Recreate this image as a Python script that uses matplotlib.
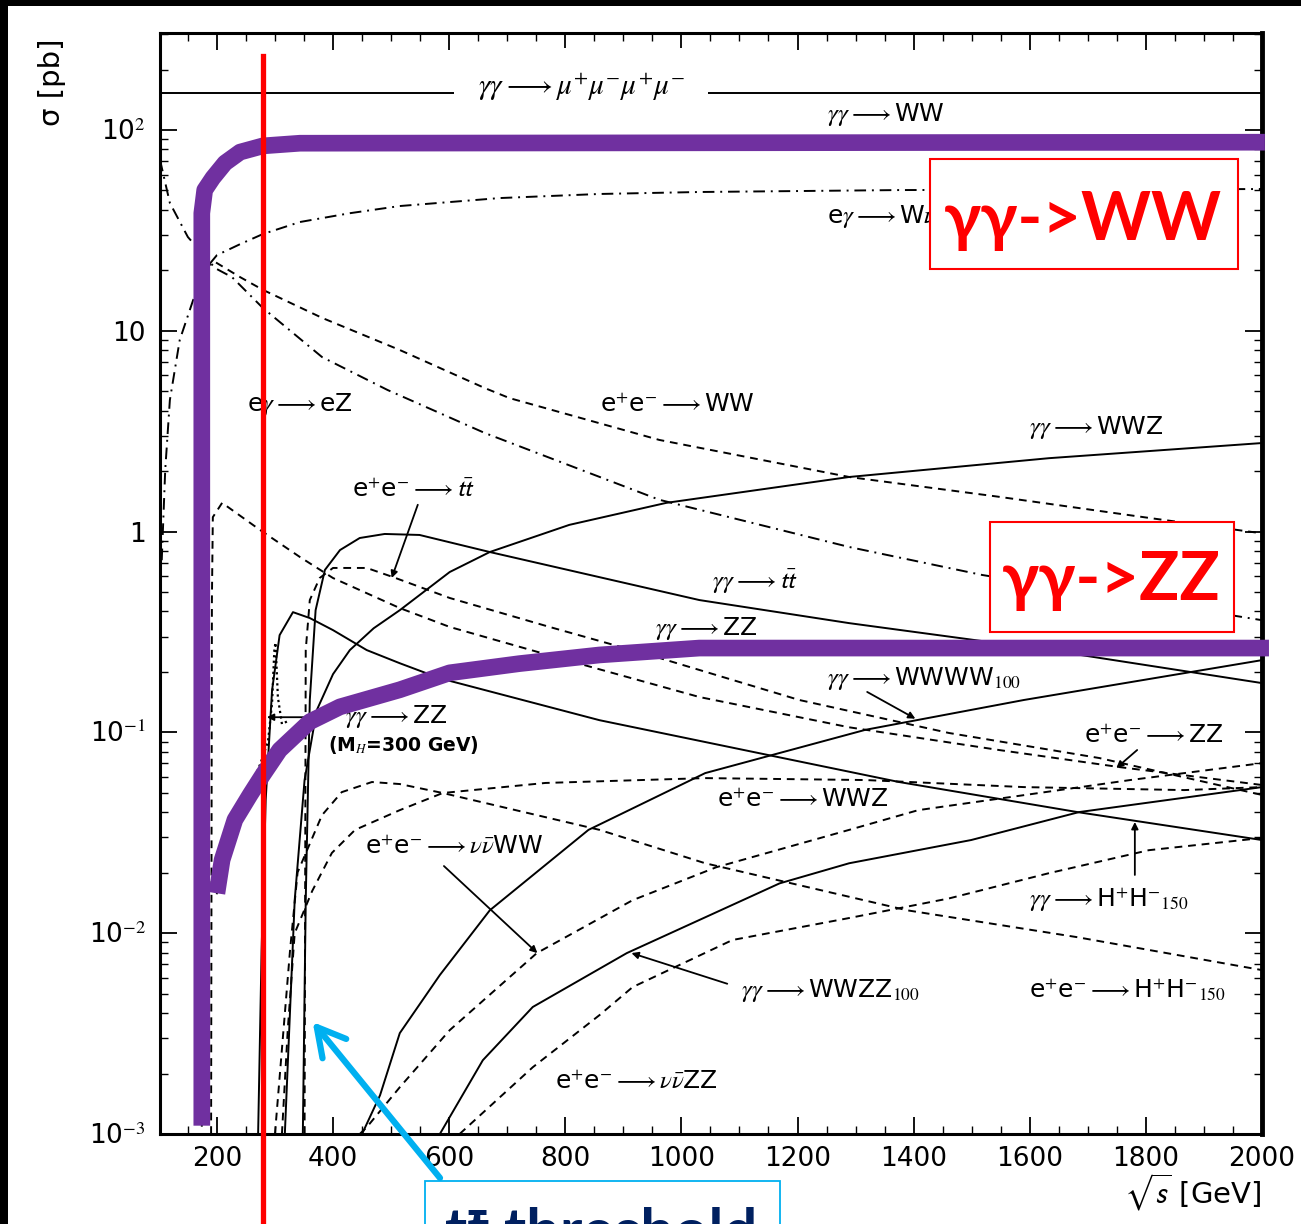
import numpy as np
import matplotlib
matplotlib.use('Agg')
import matplotlib.pyplot as plt
from matplotlib.patches import Rectangle
from matplotlib.ticker import MultipleLocator, LogLocator, NullFormatter

plt.rcParams['font.family'] = ['DejaVu Sans']
plt.rcParams['mathtext.fontset'] = 'stix'

# sqrt(s) in GeV, sigma in pb
mumu_sigma = 153.0

gg_ww_x = [174, 174, 179, 193, 214, 240, 279, 343, 2005]
gg_ww_sigma = [0.0011, 38.5, 50.2, 57.7, 68.5, 77.6, 83.3, 85.9, 86.9]

gg_zz_x = [200, 209, 231, 257, 279, 308, 360, 412, 515, 601, 721, 859, 1031, 2012]
gg_zz_sigma = [0.0158, 0.0232, 0.0367, 0.0488, 0.0614, 0.0817, 0.113, 0.134, 0.163,
               0.198, 0.220, 0.243, 0.263, 0.263]

gg_zzh_x = [245, 260, 275, 288, 295, 299, 301, 305, 312, 325]
gg_zzh_sigma = [0.045, 0.055, 0.07, 0.09, 0.14, 0.26, 0.28, 0.15, 0.11, 0.115]

eg_wnu_x = [105, 111, 119, 136, 159, 179, 200, 240, 279, 343, 429, 515, 687, 859, 1031, 1375, 2000]
eg_wnu_sigma = [0.72, 2.03, 4.52, 9.0, 14.2, 20.1, 23.8, 27.0, 30.3, 34.8, 38.5, 41.8,
                45.8, 48.0, 49.1, 50.2, 50.8]

eg_ez_x = [102, 119, 150, 197, 226, 279, 381, 494, 661, 962, 1289, 1518, 2000]
eg_ez_sigma = [71, 43.3, 29.3, 20.5, 18.5, 13.0, 7.4, 5.07, 3.10, 1.44, 0.838, 0.608, 0.362]

ee_ww_x = [163, 166, 170, 176, 184, 197, 240, 279, 381, 515, 661, 704, 962, 1289, 1547, 1805, 2000]
ee_ww_sigma = [0.3, 6, 13, 18, 21, 22.0, 18.5, 16.0, 11.6, 8.02, 5.19, 4.62, 2.86, 1.87, 1.49,
               1.17, 0.98]

ee_zz_x = [190, 191.4, 193, 209, 274, 343, 400, 515, 601, 802, 1031, 1289, 1547, 1754, 2000]
ee_zz_sigma = [0.001, 0.456, 1.18, 1.39, 1.02, 0.747, 0.587, 0.416, 0.335, 0.229, 0.150,
               0.106, 0.0817, 0.0672, 0.0547]

ee_tt_x = [351, 353, 360, 377, 400, 458, 503, 601, 773, 945, 1203, 1461, 1720, 2000]
ee_tt_sigma = [0.001, 0.257, 0.456, 0.587, 0.659, 0.659, 0.594, 0.467, 0.335, 0.243, 0.145,
               0.0993, 0.0745, 0.0488]

gg_wwz_x = [317, 334, 351, 372, 400, 429, 470, 515, 601, 670, 807, 974, 1289, 1633, 2000]
gg_wwz_sigma = [0.001, 0.0146, 0.0579, 0.129, 0.195, 0.257, 0.33, 0.406, 0.629, 0.791, 1.08,
                1.39, 1.87, 2.32, 2.76]

gg_tt_x = [348, 353, 360, 370, 386, 412, 446, 489, 549, 670, 1031, 1289, 1633, 2000]
gg_tt_sigma = [0.001, 0.0146, 0.145, 0.406, 0.644, 0.809, 0.929, 0.973, 0.962, 0.791, 0.456,
               0.350, 0.257, 0.176]

gg_hh_x = [271, 277, 284, 295, 308, 331, 360, 400, 458, 515, 584, 859, 1133, 1375, 1682, 2000]
gg_hh_sigma = [0.001, 0.00824, 0.046, 0.162, 0.305, 0.397, 0.371, 0.323, 0.257, 0.221, 0.186,
               0.115, 0.0789, 0.0566, 0.0401, 0.0291]

gg_wwww_x = [450, 481, 515, 584, 670, 840, 1041, 1317, 1590, 2000]
gg_wwww_sigma = [0.001, 0.00156, 0.00318, 0.00619, 0.0130, 0.0327, 0.0627, 0.103, 0.145, 0.229]

gg_wwzz_x = [584, 658, 744, 906, 1169, 1289, 1499, 1685, 2000]
gg_wwzz_sigma = [0.001, 0.00233, 0.00429, 0.00796, 0.0177, 0.0223, 0.0291, 0.0401, 0.0534]

ee_nnww_x = [446, 458, 515, 601, 751, 916, 1060, 1289, 1408, 1773, 2000]
ee_nnww_sigma = [0.001, 0.00108, 0.00171, 0.00329, 0.00796, 0.0146, 0.0213, 0.0327, 0.0410,
                 0.0579, 0.0703]

ee_nnzz_x = [618, 744, 859, 916, 1088, 1289, 1461, 1633, 1805, 2000]
ee_nnzz_sigma = [0.001, 0.00215, 0.00391, 0.00539, 0.00925, 0.0119, 0.0149, 0.0199, 0.0259,
                 0.0298]

ee_wwz_x = [312, 322, 334, 364, 398, 438, 515, 589, 766, 1041, 1317, 1590, 1866, 2000]
ee_wwz_sigma = [0.001, 0.00329, 0.0100, 0.0162, 0.0251, 0.0327, 0.0410, 0.0499, 0.0560,
                0.0592, 0.0579, 0.0534, 0.0516, 0.0534]

ee_hh_x = [300, 326, 339, 381, 415, 467, 515, 589, 859, 1041, 1389, 1682, 2000]
ee_hh_sigma = [0.001, 0.00824, 0.0201, 0.0387, 0.0504, 0.0566, 0.0553, 0.0499, 0.0327,
               0.0223, 0.0130, 0.00955, 0.00655]

marker_energy = 279

W, H = 1301, 1224
fig = plt.figure(figsize=(W / 100, H / 100), dpi=100)
fig.patch.set_facecolor('white')


def fx(p):
    return p / W


def fy(p):
    return 1 - p / H


ax = fig.add_axes([fx(160), fy(1134), fx(1262 - 160), (1134 - 33) / H])
ax.set_yscale('log')
ax.set_xlim(102, 2000)
ax.set_ylim(1e-3, 304)

lw = 1.4
dash = (0, (4, 3))
dashdot = (0, (6, 3, 1, 3))
kw = dict(color='black', lw=lw)

ax.axhline(mumu_sigma, **kw)
ax.plot(gg_ww_x, gg_ww_sigma, **kw)
ax.plot(gg_zz_x, gg_zz_sigma, **kw)
ax.plot(gg_zzh_x, gg_zzh_sigma, color='black', lw=1.6, ls=(0, (1, 1.5)))
ax.plot(eg_wnu_x, eg_wnu_sigma, ls=dashdot, **kw)
ax.plot(eg_ez_x, eg_ez_sigma, ls=dashdot, **kw)
for xs, ys in [(ee_ww_x, ee_ww_sigma), (ee_zz_x, ee_zz_sigma), (ee_tt_x, ee_tt_sigma),
               (ee_nnww_x, ee_nnww_sigma), (ee_nnzz_x, ee_nnzz_sigma),
               (ee_wwz_x, ee_wwz_sigma), (ee_hh_x, ee_hh_sigma)]:
    ax.plot(xs, ys, ls=dash, **kw)
for xs, ys in [(gg_wwz_x, gg_wwz_sigma), (gg_tt_x, gg_tt_sigma), (gg_hh_x, gg_hh_sigma),
               (gg_wwww_x, gg_wwww_sigma), (gg_wwzz_x, gg_wwzz_sigma)]:
    ax.plot(xs, ys, **kw)

# process labels
fs = 18
ax.text(649, 162, r'$\gamma\gamma\longrightarrow\mu^{+}\mu^{-}\mu^{+}\mu^{-}$', fontsize=21,
        va='center', zorder=3,
        bbox=dict(boxstyle='square,pad=0.8', fc='white', ec='none'))
labels = [
    (1251, 119, r'$\gamma\gamma\longrightarrow$WW'),
    (1251, 36.9, r'e$\gamma\longrightarrow$W$\nu$'),
    (252, 4.27, r'e$\gamma\longrightarrow$eZ'),
    (859, 4.27, r'e$^{+}$e$^{-}\longrightarrow$WW'),
    (1599, 3.28, r'$\gamma\gamma\longrightarrow$WWZ'),
    (432, 1.61, r'e$^{+}$e$^{-}\longrightarrow\mathsf{t\bar{t}}$'),
    (1052, 0.561, r'$\gamma\gamma\longrightarrow\mathsf{t\bar{t}}$'),
    (954, 0.331, r'$\gamma\gamma\longrightarrow$ZZ'),
    (420, 0.1205, r'$\gamma\gamma\longrightarrow$ZZ'),
    (1251, 0.186, r'$\gamma\gamma\longrightarrow$WWWW$_{100}$'),
    (1694, 0.096, r'e$^{+}$e$^{-}\longrightarrow$ZZ'),
    (1062, 0.046, r'e$^{+}$e$^{-}\longrightarrow$WWZ'),
    (455, 0.0269, r'e$^{+}$e$^{-}\longrightarrow\nu\bar{\nu}$WW'),
    (1599, 0.0146, r'$\gamma\gamma\longrightarrow$H$^{+}$H$^{-}$$_{150}$'),
    (1103, 0.00521, r'$\gamma\gamma\longrightarrow$WWZZ$_{100}$'),
    (1599, 0.00521, r'e$^{+}$e$^{-}\longrightarrow$H$^{+}$H$^{-}$$_{150}$'),
    (782, 0.00182, r'e$^{+}$e$^{-}\longrightarrow\nu\bar{\nu}$ZZ'),
]
for x, y, s in labels:
    ax.text(x, y, s, fontsize=fs, va='center', zorder=3)
ax.text(391, 0.0865, r'(M$_{H}$=300 GeV)', fontsize=13.5, fontweight='bold', va='center',
        zorder=3)

# pointer arrows from labels to curves
pointers = [
    ((546, 1.36), (501, 0.587)),
    ((1320, 0.159), (1403, 0.117)),
    ((1785, 0.0817), (1749, 0.0664)),
    ((591, 0.0216), (752, 0.00796)),
    ((1781, 0.0195), (1781, 0.0358)),
    ((1079, 0.0056), (914, 0.00796)),
    ((364, 0.119), (286, 0.119)),
]
for start, end in pointers:
    ax.annotate('', xy=end, xytext=start,
                arrowprops=dict(arrowstyle='-|>', color='black', lw=1.3,
                                mutation_scale=10, shrinkA=0, shrinkB=0))

# highlighted gamma gamma -> WW / ZZ
purple = '#7030A0'
ax.plot(gg_ww_x, gg_ww_sigma, color=purple, lw=12, solid_capstyle='butt',
        solid_joinstyle='round', clip_on=False, zorder=5)
ax.plot(gg_zz_x, gg_zz_sigma, color=purple, lw=12, solid_capstyle='butt',
        solid_joinstyle='round', clip_on=False, zorder=5)

ax.plot([marker_energy, marker_energy], [233, 1e-4], color='#FF0000', lw=3.8,
        clip_on=False, zorder=6)

# axes styling
ax.set_xticks(range(200, 2001, 200))
ax.xaxis.set_minor_locator(MultipleLocator(50))
ax.set_yticks([1e-3, 1e-2, 1e-1, 1, 10, 100],
              ['10$^{-3}$', '10$^{-2}$', '10$^{-1}$', '1', '10', '10$^{2}$'])
ax.yaxis.set_minor_locator(LogLocator(base=10, subs=np.arange(2, 10)))
ax.yaxis.set_minor_formatter(NullFormatter())
ax.tick_params(which='both', direction='in', top=True, right=True, labelsize=19)
ax.tick_params(which='major', length=12, width=1.3)
ax.tick_params(which='minor', length=6, width=1.0)
ax.tick_params(axis='x', pad=9)
ax.tick_params(axis='y', pad=10)
for side in ['left', 'bottom', 'top']:
    ax.spines[side].set_linewidth(2.2)
ax.spines['right'].set_linewidth(3.5)

fig.text(fx(52), fy(82), 'σ [pb]', rotation=90, fontsize=21, ha='center', va='center')
fig.text(fx(1262), fy(1192), r'$\sqrt{\mathsf{s}}$ [GeV]', fontsize=21, ha='right',
         va='center')

# callout boxes
box_font = ['Lato', 'DejaVu Sans']
for (x0, y0, x1, y1), tx, ty, s in [((930, 159, 1238, 269), 1083, 240, 'γγ->WW'),
                                     ((990, 522, 1234, 632), 1111, 600, 'γγ->ZZ')]:
    fig.add_artist(Rectangle((fx(x0), fy(y1)), fx(x1 - x0), (y1 - y0) / H,
                             transform=fig.transFigure, fc='white', ec='#FF0000',
                             lw=1.5, zorder=7))
    fig.text(fx(tx), fy(ty), s, color='#FF0000', fontsize=48, fontweight='bold',
             family=box_font, ha='center', va='baseline', zorder=8)

fig.add_artist(Rectangle((fx(425), fy(1240)), fx(780 - 425), (1240 - 1181) / H,
                         transform=fig.transFigure, fc='white', ec='#00B0F0',
                         lw=1.3, zorder=7))
fig.text(fx(445), fy(1251), 'tt\u0304 threshold', color='#002060', fontsize=43,
         fontweight='bold', family=box_font, ha='left', va='baseline', zorder=8)
ax.annotate('', xy=(365, 0.00361), xytext=(440, H - 1178), textcoords='figure pixels',
            arrowprops=dict(arrowstyle='->,head_length=1.0,head_width=0.55',
                            color='#00B0F0', lw=4.5, mutation_scale=20,
                            shrinkA=0, shrinkB=0), zorder=9, annotation_clip=False)

# dark frame strips
fig.add_artist(Rectangle((0, fy(6)), 1, 6 / H, transform=fig.transFigure, fc='black',
                         ec='none', zorder=10))
fig.add_artist(Rectangle((0, 0), fx(8), 1, transform=fig.transFigure, fc='black',
                         ec='none', zorder=10))

fig.savefig('out.png', dpi=100)
